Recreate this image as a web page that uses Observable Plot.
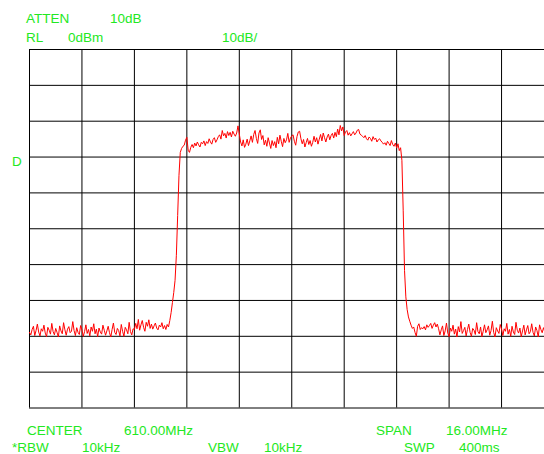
<!DOCTYPE html>
<html><head><meta charset="utf-8">
<script src="https://cdn.jsdelivr.net/npm/d3@7"></script>
<script src="https://cdn.jsdelivr.net/npm/@observablehq/plot@0.6"></script>
<style>
html,body{margin:0;padding:0;background:#fff;overflow:hidden;}
#wrap{position:relative;width:544px;height:454px;overflow:hidden;background:#fff;}
#wrap svg{position:absolute;left:0;top:0;}
.lbl{position:absolute;font-family:"Liberation Sans",Arial,Helvetica,sans-serif;font-size:13.5px;line-height:11px;color:#22e822;white-space:pre;}
</style></head><body><div id="wrap"></div>
<script>
// Spectrum analyzer: center 610.00 MHz, span 16.00 MHz, 401 trace points, RL 0 dBm, 10 dB/div
const freqTicks = [602, 603.6, 605.2, 606.8, 608.4, 610, 611.6, 613.2, 614.8, 616.4, 618];
const levelTicks = [0, -10, -20, -30, -40, -50, -60, -70, -80, -90, -100];
const freqStart = 602;
const freqStep = 0.04;

// trace levels (dBm)
const noiseLeft = [
-78.9,-79.6,-78.1,-77.2,-79.8,-78.4,-76.6,-78.8,-79.9,-77.9,
-78.6,-76.9,-79.1,-80.1,-77.5,-78.3,-79.4,-76.4,-78.7,-79.6,
-77.8,-78.9,-80.2,-77.1,-78.5,-79.3,-76.2,-78.2,-79.7,-78.0,
-77.3,-79.0,-78.6,-75.9,-78.4,-79.8,-77.6,-78.9,-79.5,-77.0,
-78.2,-80.0,-78.7,-76.8,-79.2,-78.1,-79.9,-77.4,-78.6,-76.5,
-79.3,-78.0,-80.1,-77.7,-78.8,-79.4,-76.9,-78.3,-79.7,-78.5,
-77.2,-79.0,-80.2,-78.1,-76.3,-78.9,-79.5,-77.8,-78.4,-79.9,
-76.7,-78.6,-80.0,-77.5,-78.2,-79.3,-76.1,-78.7,-79.6,-77.9,
-78.1,-76.4,-77.9,-75.3,-78.3,-76.8,-75.6,-77.5,-78.6,-76.1,
-77.2,-75.4,-77.8,-76.6,-78.0,-77.1,-76.3,-77.7,-78.2,-76.9,
-77.4,-76.2,-77.9,-77.0,-78.1,-76.7
];
const riseEdge = [
-77.4,-75.6,-73.4,-70.6,-67.8,-64.4,-57.4,-46.3,-35.1,-28.7,
-27.6,-27.0,-26.7,-25.3,-24.5,-28.1,-28.7,-27.3
];
const plateau = [
-26.5,-27.4,-26.1,-26.9,-25.8,-26.6,-27.2,-25.9,-26.3,-25.5,
-26.8,-25.7,-26.2,-24.9,-25.8,-26.4,-25.1,-24.6,-25.9,-25.2,
-24.3,-23.8,-25.0,-22.6,-24.1,-23.4,-24.7,-22.9,-24.0,-23.1,
-24.4,-22.8,-23.6,-24.2,-23.3,
-21.3,
-23.6,-25.8,-26.9,-25.2,-27.3,-26.4,-25.0,-26.8,-25.5,-24.1,
-25.9,-23.7,-22.6,-24.8,-26.2,-23.3,-22.4,-25.1,-24.0,-26.6,
-25.3,-27.0,-24.6,-26.1,-27.6,-25.4,-26.8,-25.7,-27.4,-24.5,
-26.3,-23.9,-25.6,-27.1,-24.8,-26.0,-25.2,-23.4,-25.9,-24.7,
-24.1,-23.8,-25.6,-26.7,-24.3,-23.0,-22.8,-24.9,-26.3,-25.1,
-27.2,-26.0,-24.8,-26.5,-25.4,-27.0,-25.9,-24.2,-25.8,-24.6,
-26.4,-25.0,-23.7,-25.5,-23.3,-24.6,-25.8,-24.4,-23.6,-25.2,
-24.0,-23.4,-24.7,-23.1,-24.3,-22.2,-23.8,-21.2,
-22.7,-21.6,-24.0,-23.0,
-22.6,-23.9,-23.2,-24.1,-23.5,-22.9,-23.8,-23.3,-22.5,-22.3,-23.6,-23.9,
-24.2,-24.6,-24.0,-24.9,-25.3,-24.4,-24.8,-25.6,-24.3,-25.1,-24.7,-25.8,-25.2,-24.9,-25.5,
-25.9,-26.4,-26.0,-26.7,-25.6,-26.2,-26.8,-25.4,-26.5,-27.0,-26.1,
-27.5,-26.3,-28.2,-27.4
];
const fallEdge = [-30.9,-45.0,-61.6,-69.0,-72.5,-74.6,-75.8,-76.9,-77.8];
const noiseRight = [
-77.4,-78.9,-80.0,-77.2,-76.5,-78.1,-77.6,-77.9,-77.3,-78.2,
-76.8,-77.5,-77.0,-76.4,-77.8,-76.9,-76.2,-77.4,-76.6,-77.9,
-79.6,-78.2,-77.1,-79.8,-78.5,-76.3,-79.1,-80.1,-77.7,-78.6,
-76.9,-79.4,-78.0,-80.2,-77.3,-78.8,-75.9,-79.2,-78.4,-77.5,
-79.9,-78.1,-76.6,-78.9,-80.0,-77.8,-78.3,-79.5,-76.2,-78.7,
-79.3,-77.4,-80.1,-78.6,-76.8,-79.0,-78.2,-77.1,-79.7,-78.4,
-75.8,-78.9,-80.2,-77.6,-78.5,-79.2,-76.7,-78.0,-79.8,-77.9,
-78.6,-76.4,-79.4,-78.1,-80.0,-77.2,-78.8,-79.5,-76.1,-78.3,
-79.1,-77.7,-80.1,-78.5,-76.9,-79.6,-78.2,-77.0,-79.3,-78.7,
-76.5,-78.9,-79.9,-77.4,-78.4,-80.2,-76.8,-78.1,-79.0,-77.6,
-78.8,-79.7,-76.3,-78.6,-79.4,-77.9,-78.3,-80.0
];

// annotation texts
const headerTexts = ["ATTEN", "10dB", "RL", "0dBm", "10dB/"];
const markerTexts = ["D"];
const footerTexts = ["CENTER", "610.00MHz", "SPAN", "16.00MHz", "*RBW", "10kHz", "VBW", "10kHz", "SWP", "400ms"];

// layout of the annotation texts: [left, baseline]
const headerPos = [[26, 23], [110, 23], [26, 42], [68, 42], [222, 42]];
const markerPos = [[12, 166]];
const footerPos = [[27, 434.7], [124, 434.7], [376, 434.7], [446, 434.7],
                   [12, 452.6], [82, 452.6], [208, 452.6], [264, 452.6], [404, 452.6], [459, 452.6]];

const levels = [...noiseLeft, ...riseEdge, ...plateau, ...fallEdge, ...noiseRight];
const trace = levels.map((level, i) => ({freq: freqStart + i * freqStep, level}));

const chart = Plot.plot({
  width: 544,
  height: 454,
  marginLeft: 29,
  marginRight: -9.5,
  marginTop: 49,
  marginBottom: 46.5,
  x: {domain: [602, 618], axis: null},
  y: {domain: [-100, 0], axis: null},
  style: {background: "white"},
  marks: [
    Plot.ruleX(freqTicks, {stroke: "#000", strokeWidth: 1}),
    Plot.ruleY(levelTicks, {stroke: "#000", strokeWidth: 1}),
    Plot.line(trace, {x: "freq", y: "level", stroke: "#ff0000", strokeWidth: 1})
  ]
});
const wrap = document.getElementById("wrap");
wrap.appendChild(chart);

// baseline offset for 13.5px Liberation Sans with 11px line-height
const baselineOffset = (11 - 13.5 * 1.117) / 2 + 13.5 * 0.905;
function addLabels(texts, pos) {
  texts.forEach((t, i) => {
    const d = document.createElement("div");
    d.className = "lbl";
    d.textContent = t;
    d.style.left = pos[i][0] + "px";
    d.style.top = (pos[i][1] - baselineOffset) + "px";
    wrap.appendChild(d);
  });
}
addLabels(headerTexts, headerPos);
addLabels(markerTexts, markerPos);
addLabels(footerTexts, footerPos);
</script></body></html>
